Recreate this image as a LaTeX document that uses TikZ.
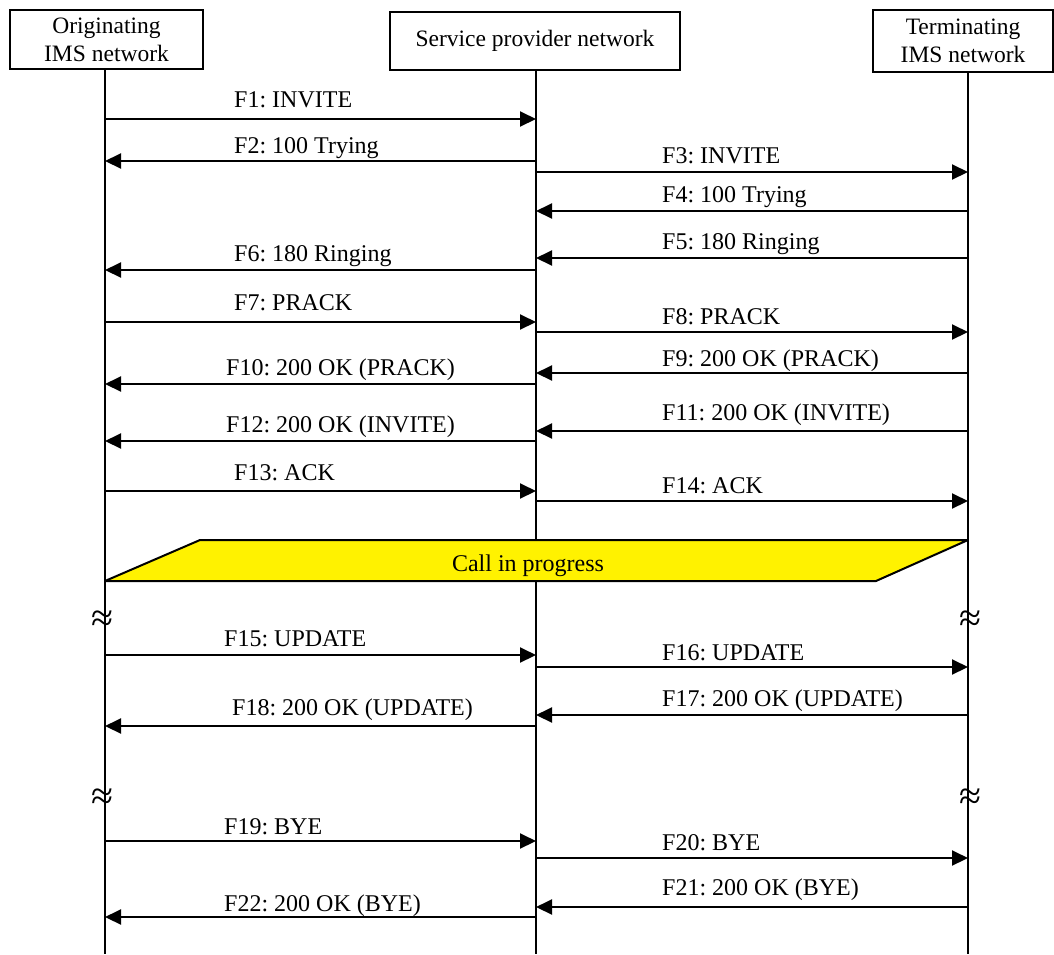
\documentclass[tikz,border=0pt]{standalone}
\usepackage{fontspec}
\setmainfont{Liberation Serif}
\usetikzlibrary{arrows.meta, positioning}
\frenchspacing

\begin{document}
\begin{tikzpicture}[
            x=1pt, y=-1pt,
            party/.style   ={rectangle, draw=black, line width=2pt, align=center,
                             inner sep=0pt, font=\fontsize{23.5}{28}\selectfont},
            lifeline/.style={line width=2pt},
            msg/.style     ={-{Triangle[length=16pt, width=15pt]}, line width=2pt},
            lbl/.style     ={anchor=base west, inner sep=0pt, font=\fontsize{24}{28}\selectfont},
            callbox/.style ={draw=black, fill=yellow, line width=2pt, line join=bevel},
            brk/.style     ={inner sep=0pt, font=\fontsize{40}{40}\selectfont}
        ]
        \useasboundingbox (0,0) rectangle (1054,954);

        % parties
        \node[party, minimum width=193pt, minimum height=59pt] (orig) at (106.5,39.5) {Originating\\IMS network};
        \node[party, minimum width=290pt, minimum height=58pt] (prov) at (535,41)     {Service provider network};
        \node[party, minimum width=180pt, minimum height=62pt] (term) at (963,41)     {Terminating\\IMS network};

        % lifelines
        \coordinate (lo) at (105,70);
        \coordinate (lm) at (536,70);
        \coordinate (lr) at (968,72);
        \draw[lifeline] (lo) -- (lo |- 0,954);
        \draw[lifeline] (lm) -- (lm |- 0,954);
        \draw[lifeline] (lr) -- (lr |- 0,954);

        % messages
        \foreach \n/\a/\b/\y/\ly/\xl/\txt in {
            1/lo/lm/119/107/234/{F1: INVITE},
            2/lm/lo/161/153/234/{F2: 100 Trying},
            3/lm/lr/172/163/662/{F3: INVITE},
            4/lr/lm/211/202/662/{F4: 100 Trying},
            5/lr/lm/258/249/662/{F5: 180 Ringing},
            6/lm/lo/270/261/234/{F6: 180 Ringing},
            7/lo/lm/322/310/234/{F7: PRACK},
            8/lm/lr/332/324/662/{F8: PRACK},
            9/lr/lm/373/366/662/{F9: 200 OK (PRACK)},
            10/lm/lo/384/375/226/{F10: 200 OK (PRACK)},
            11/lr/lm/431/420/662/{F11: 200 OK (INVITE)},
            12/lm/lo/441/432/226/{F12: 200 OK (INVITE)},
            13/lo/lm/491/480/234/{F13: ACK},
            14/lm/lr/501/493/662/{F14: ACK},
            15/lo/lm/655/646/224/{F15: UPDATE},
            16/lm/lr/667/660/662/{F16: UPDATE},
            17/lr/lm/715/706/662/{F17: 200 OK (UPDATE)},
            18/lm/lo/726/715/232/{F18: 200 OK (UPDATE)},
            19/lo/lm/841/834/224/{F19: BYE},
            20/lm/lr/858/850/662/{F20: BYE},
            21/lr/lm/907/895/662/{F21: 200 OK (BYE)},
            22/lm/lo/917/911/224/{F22: 200 OK (BYE)}} {
            \draw[msg] (\a |- 0,\y) -- (\b |- 0,\y);
            \node[lbl] (l\n) at (\xl,\ly) {\txt};
        }

        % call in progress
        \draw[callbox] (200,540) -- (lr |- 0,540) -- (876,581) -- (lo |- 0,581) -- cycle;
        \node[lbl, anchor=base] (call) at (528,571) {Call in progress};

        % time breaks
        \foreach \y [count=\i] in {621,799} {
            \node[brk] (bo\i) at (102,\y) {≈};
            \node[brk] (br\i) at (970,\y) {≈};
        }
        \end{tikzpicture}
\end{document}
